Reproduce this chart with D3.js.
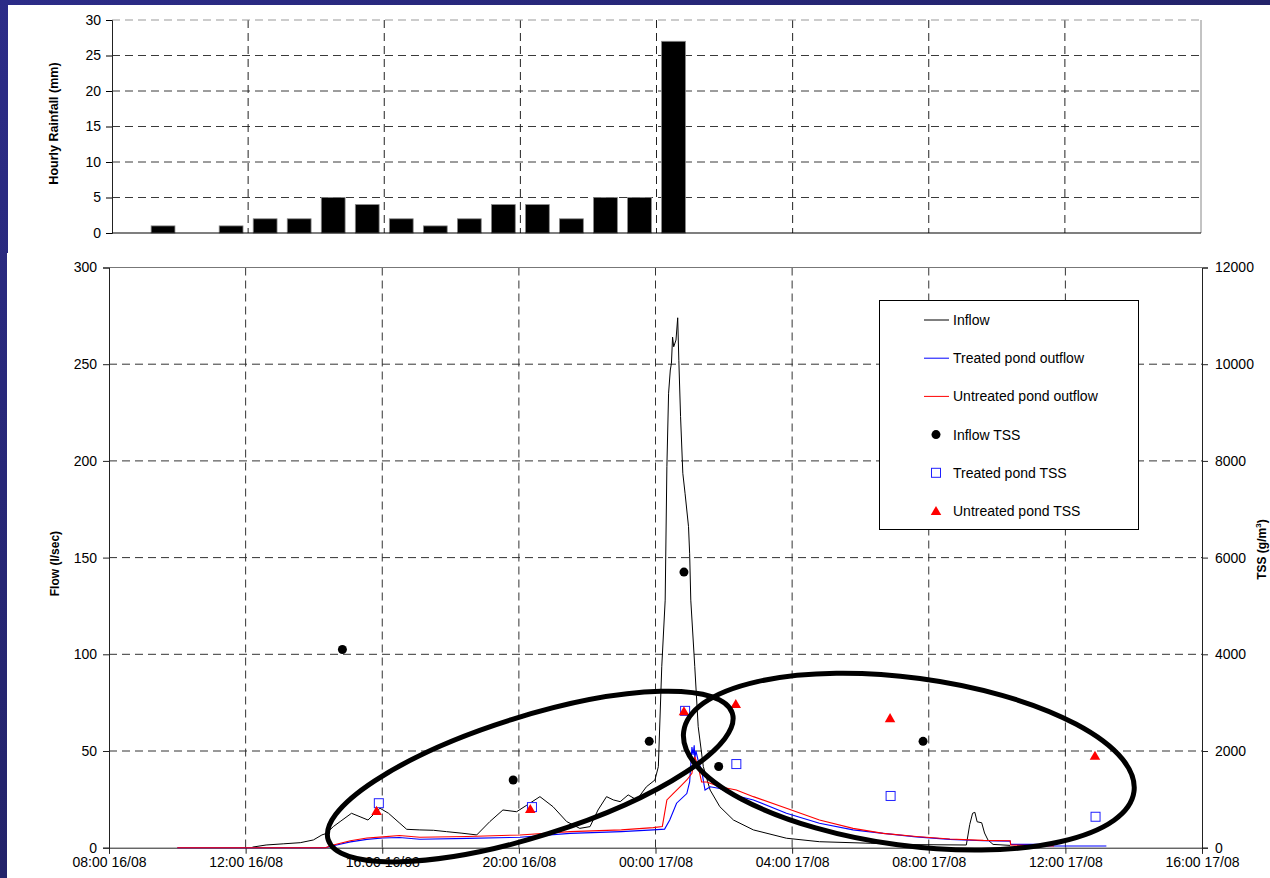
<!DOCTYPE html>
<html>
<head>
<meta charset="utf-8">
<script src="https://cdn.jsdelivr.net/npm/d3@7"></script>
<style>
  html, body { margin: 0; padding: 0; overflow: hidden; background: #fff; }
  svg { display: block; font-family: Arial, "Liberation Sans", sans-serif; }
</style>
</head>
<body>
<svg id="chart" width="1270" height="878"></svg>
<script>
// ---- Hourly rainfall (hour start, mm) ----
const rainHours = ["16 09:00","16 10:00","16 11:00","16 12:00","16 13:00","16 14:00","16 15:00","16 16:00",
                   "16 17:00","16 18:00","16 19:00","16 20:00","16 21:00","16 22:00","16 23:00","17 00:00"];
const rainMm    = [1, 0, 1, 2, 2, 5, 4, 2, 1, 2, 4, 4, 2, 5, 5, 27];

// ---- Flow series (time, l/sec) ----
const inflowTimes = ["16 12:12","16 12:36","16 13:06","16 13:36","16 13:59","16 14:14","16 14:22","16 14:34","16 14:46",
  "16 15:06","16 15:21","16 15:35","16 15:44","16 15:56","16 16:11","16 16:31","16 16:43","16 17:06","16 17:30","16 17:53",
  "16 18:20","16 18:46","16 19:09","16 19:32","16 19:56","16 20:14","16 20:37","16 21:00","16 21:24","16 21:47","16 22:05",
  "16 22:19","16 22:34","16 22:46","16 22:58","16 23:12","16 23:27","16 23:44","16 23:59","17 00:05","17 00:11","17 00:17",
  "17 00:20","17 00:23","17 00:26","17 00:28","17 00:30","17 00:32","17 00:36","17 00:39","17 00:41","17 00:44","17 00:48",
  "17 00:52","17 00:58","17 01:00","17 01:02","17 01:09","17 01:15","17 01:24","17 01:36","17 01:53","17 02:17","17 02:52",
  "17 03:50","17 04:48","17 06:17","17 07:30","17 09:06","17 09:12","17 09:17","17 09:21","17 09:25","17 09:33","17 09:38",
  "17 09:44","17 09:53","17 10:23"];
const inflowFlow = [0.3, 1.4, 2.0, 2.6, 4.0, 6.6, 7.4, 10.9, 13.5,
  17.8, 16.0, 14.3, 17.0, 20.4, 17.8, 12.6, 9.5, 9.2, 9.0, 8.3,
  7.5, 6.6, 13.5, 19.5, 18.6, 22, 26.4, 21.2, 13.5, 10, 10.9,
  19.5, 26.4, 24.7, 23.8, 27.3, 24.7, 31.5, 35, 41.9, 93.6, 128,
  197, 235, 247, 250.5, 264, 259, 262.5, 274, 252, 223, 193.6,
  183, 166, 152, 128, 93.6, 62.6, 41.9, 29.8, 21.2, 14.3, 9.2,
  4.9, 3.1, 2.3, 1.6, 1.4, 12, 17.8, 18.3, 13.4, 12.9, 7.6,
  4.0, 1.7, 1.2];

const treatedTimes = ["16 10:00","16 14:20","16 14:34","16 15:04","16 15:33","16 16:01","16 16:30","16 17:06","16 18:30",
  "16 20:02","16 21:30","16 23:00","16 23:56","17 00:16","17 00:25","17 00:37","17 00:55","17 01:00","17 01:04","17 01:06",
  "17 01:08","17 01:09","17 01:11","17 01:15","17 01:21","17 01:27","17 01:36","17 01:53","17 02:17","17 02:52","17 03:50",
  "17 04:48","17 05:47","17 06:40","17 07:38","17 08:37","17 09:36","17 10:23","17 10:24","17 11:18","17 11:20","17 13:12"];
const treatedFlow = [0, 0, 1.0, 3.0, 4.3, 5.0, 5.3, 4.4, 4.8,
  5.4, 7.4, 8.3, 9.2, 9.6, 14.3, 23, 28, 34, 52, 48,
  53, 46, 50, 45, 40, 29.8, 31.5, 30.6, 27.2, 24.7, 17.8,
  12.6, 9.2, 7.4, 5.6, 4.3, 3.6, 3.4, 1.7, 1.7, 0.9, 0.9];

const untreatedTimes = ["16 10:00","16 14:20","16 14:34","16 15:04","16 15:33","16 16:01","16 16:30","16 17:06","16 18:30",
  "16 20:02","16 21:30","16 23:00","16 23:56","17 00:12","17 00:20","17 00:31","17 00:43","17 00:55","17 01:04","17 01:09",
  "17 01:15","17 01:21","17 01:30","17 01:53","17 02:22","17 02:52","17 03:50","17 04:48","17 05:47","17 06:40","17 07:38",
  "17 08:37","17 09:36","17 10:23","17 10:24","17 11:40"];
const untreatedFlow = [0, 0, 1.4, 3.6, 5.0, 5.6, 6.3, 5.4, 5.8,
  6.6, 8.3, 9.2, 10.4, 11, 24.7, 28, 31.5, 35, 38.5, 47,
  41.9, 34, 34, 31.5, 29.8, 26.4, 20.4, 14.3, 10, 7.4, 5.8,
  4.5, 3.8, 3.6, 1.4, 0.9];

// ---- TSS samples (time, g/m3) ----
const inflowTssTimes = ["16 14:50","16 19:50","16 23:49","17 00:50","17 01:51","17 07:50"];
const inflowTss      = [4100, 1400, 2200, 5700, 1680, 2200];
const treatedTssTimes = ["16 15:54","16 20:23","17 00:52","17 02:22","17 06:53","17 12:53"];
const treatedTss      = [920, 840, 2830, 1730, 1070, 640];
const untreatedTssTimes = ["16 15:50","16 20:20","17 00:50","17 02:21","17 06:52","17 12:52"];
const untreatedTss      = [740, 780, 2800, 2950, 2660, 1880];

// ---- Axis ticks ----
const timeTicks = ["16 08:00","16 12:00","16 16:00","16 20:00","17 00:00","17 04:00","17 08:00","17 12:00","17 16:00"];
const rainTicks = [0, 5, 10, 15, 20, 25, 30];
const flowTicks = [0, 50, 100, 150, 200, 250, 300];
const tssTicks  = [0, 2000, 4000, 6000, 8000, 10000, 12000];

// ---- Highlight rings (centre time, centre flow, half-length in hours, half-width in l/sec, tilt) ----
const ringCentreTimes = ["16 20:20", "17 07:25"];
const ringCentreFlow  = [36.8, 44.5];
const ringHalfHours   = [6.2, 6.65];
const ringHalfFlow    = [31, 43.4];
const ringTilt        = [-17.4, 7.6];

const legendLabels = ["Inflow", "Treated pond outflow", "Untreated pond outflow",
                      "Inflow TSS", "Treated pond TSS", "Untreated pond TSS"];

// ---------------------------------------------------------------
const parseT = d3.utcParse("%Y-%m-%d %H:%M");
const T = s => parseT("2007-08-" + s);
const fmt = d3.utcFormat("%H:%M %d/%m");
const svg = d3.select("#chart");

// slide-style background frame
const defs = svg.append("defs");
const bg = defs.append("linearGradient").attr("id", "bg").attr("x1", 0).attr("y1", 0).attr("x2", 1).attr("y2", 1);
bg.append("stop").attr("offset", 0).attr("stop-color", "#2c2c88");
bg.append("stop").attr("offset", 1).attr("stop-color", "#1a1a4c");
svg.append("rect").attr("width", 1270).attr("height", 878).attr("fill", "url(#bg)");
svg.append("rect").attr("x", 8).attr("y", 5).attr("width", 1262).attr("height", 248).attr("fill", "#fff");
svg.append("rect").attr("x", 7).attr("y", 253).attr("width", 1263).attr("height", 625).attr("fill", "#fff");

const domainT = [T(timeTicks[0]), T(timeTicks[timeTicks.length - 1])];
const gridDash = "8,5";

// ================= Rainfall panel =================
const xr = d3.scaleUtc().domain(domainT).range([112, 1201]);
const yr = d3.scaleLinear().domain([0, 30]).range([233, 20]);
const rainPanel = svg.append("g");

rainPanel.append("g").selectAll("line").data(rainTicks.filter(v => v > 0 && v < 30)).join("line")
  .attr("x1", xr.range()[0]).attr("x2", xr.range()[1]).attr("y1", d => yr(d)).attr("y2", d => yr(d))
  .attr("stroke", "#3a3a3a").attr("stroke-dasharray", gridDash);
rainPanel.append("g").selectAll("line").data(timeTicks.slice(1, -1)).join("line")
  .attr("x1", d => xr(T(d))).attr("x2", d => xr(T(d))).attr("y1", yr(30)).attr("y2", yr(0))
  .attr("stroke", "#222").attr("stroke-dasharray", gridDash);
rainPanel.append("line").attr("x1", xr.range()[0]).attr("x2", xr.range()[1]).attr("y1", yr(30)).attr("y2", yr(30))
  .attr("stroke", "#999").attr("stroke-dasharray", gridDash);
rainPanel.append("line").attr("x1", xr.range()[1]).attr("x2", xr.range()[1]).attr("y1", yr(30)).attr("y2", yr(0))
  .attr("stroke", "#888");

const hourMs = 3600 * 1000;
rainPanel.append("g").selectAll("rect").data(rainHours.map((h, i) => ({ t: T(h), v: rainMm[i] })).filter(d => d.v > 0))
  .join("rect")
  .attr("x", d => xr(new Date(+d.t + 0.15 * hourMs)))
  .attr("width", d => xr(new Date(+d.t + 0.85 * hourMs)) - xr(new Date(+d.t + 0.15 * hourMs)))
  .attr("y", d => yr(d.v)).attr("height", d => yr(0) - yr(d.v))
  .attr("fill", "#000").attr("stroke", "#888").attr("stroke-width", 0.8);

const yAxisRain = rainPanel.append("g").attr("transform", `translate(${xr.range()[0]},0)`)
  .call(d3.axisLeft(yr).tickValues(rainTicks).tickSize(6).tickPadding(5));
yAxisRain.select(".domain").attr("stroke", "#222");
yAxisRain.selectAll("text").attr("font-size", 14).attr("font-family", "Arial, 'Liberation Sans', sans-serif").attr("fill", "#000");
rainPanel.append("line").attr("x1", xr.range()[0]).attr("x2", xr.range()[1]).attr("y1", yr(0)).attr("y2", yr(0))
  .attr("stroke", "#000").attr("stroke-width", 1.2);
rainPanel.append("text").attr("transform", `translate(58,${(yr(0) + yr(30)) / 2 - 3}) rotate(-90)`)
  .attr("text-anchor", "middle").attr("font-size", 12.5).attr("font-weight", "bold").text("Hourly Rainfall (mm)");

// ================= Flow / TSS panel =================
const x = d3.scaleUtc().domain(domainT).range([109, 1202]);
const y = d3.scaleLinear().domain([0, 300]).range([847.7, 267.5]);
const y2 = d3.scaleLinear().domain([0, 12000]).range([847.7, 267.5]);
const flowPanel = svg.append("g");

flowPanel.append("g").selectAll("line").data(flowTicks.filter(v => v > 0 && v < 300)).join("line")
  .attr("x1", x.range()[0]).attr("x2", x.range()[1]).attr("y1", d => y(d)).attr("y2", d => y(d))
  .attr("stroke", "#333").attr("stroke-dasharray", gridDash);
flowPanel.append("g").selectAll("line").data(timeTicks.slice(1, -1)).join("line")
  .attr("x1", d => x(T(d))).attr("x2", d => x(T(d))).attr("y1", y(300)).attr("y2", y(0))
  .attr("stroke", "#333").attr("stroke-dasharray", gridDash);
flowPanel.append("line").attr("x1", x.range()[0]).attr("x2", x.range()[1]).attr("y1", y(300)).attr("y2", y(300))
  .attr("stroke", "#777");

const styleAxis = g => {
  g.select(".domain").attr("stroke", "#222");
  g.selectAll(".tick line").attr("stroke", "#222");
  g.selectAll("text").attr("font-size", 14).attr("font-family", "Arial, 'Liberation Sans', sans-serif").attr("fill", "#000");
};
flowPanel.append("g").attr("transform", `translate(${x.range()[0]},0)`)
  .call(d3.axisLeft(y).tickValues(flowTicks).tickSize(6).tickPadding(6)).call(styleAxis);
flowPanel.append("g").attr("transform", `translate(${x.range()[1]},0)`)
  .call(d3.axisRight(y2).tickValues(tssTicks).tickFormat(d3.format("d")).tickSize(6).tickPadding(7)).call(styleAxis);
flowPanel.append("g").attr("transform", `translate(0,${y(0)})`)
  .call(d3.axisBottom(x).tickValues(timeTicks.map(T)).tickFormat(fmt).tickSize(6).tickPadding(3)).call(styleAxis);

flowPanel.append("text").attr("transform", `translate(59,${(y(0) + y(300)) / 2 + 6}) rotate(-90)`)
  .attr("text-anchor", "middle").attr("font-size", 12).attr("font-weight", "bold").text("Flow (l/sec)");
const tssLabel = flowPanel.append("text").attr("transform", `translate(1266,${(y(0) + y(300)) / 2 - 8}) rotate(-90)`)
  .attr("text-anchor", "middle").attr("font-size", 12).attr("font-weight", "bold");
tssLabel.append("tspan").text("TSS (g/m");
tssLabel.append("tspan").attr("font-size", 8).attr("dy", -5).text("3");
tssLabel.append("tspan").attr("dy", 5).text(")");

// flow lines
const line = d3.line().x(d => x(d.t)).y(d => y(d.v));
const series = (times, vals) => times.map((t, i) => ({ t: T(t), v: vals[i] }));
const plot = flowPanel.append("g");
plot.append("path").datum(series(inflowTimes, inflowFlow)).attr("d", line)
  .attr("fill", "none").attr("stroke", "#000").attr("stroke-width", 1);
plot.append("path").datum(series(treatedTimes, treatedFlow)).attr("d", line)
  .attr("fill", "none").attr("stroke", "#0000ff").attr("stroke-width", 1.1);
plot.append("path").datum(series(untreatedTimes, untreatedFlow)).attr("d", line)
  .attr("fill", "none").attr("stroke", "#ff0000").attr("stroke-width", 1.1);

// TSS markers
const tri = d3.symbol().type(d3.symbolTriangle).size(48);
const drawCircles = (g, px, py) => g.append("circle").attr("cx", px).attr("cy", py).attr("r", 4.5).attr("fill", "#000");
const drawSquares = (g, px, py) => g.append("rect").attr("x", px - 4.5).attr("y", py - 4.5).attr("width", 9).attr("height", 9)
  .attr("fill", "#fff").attr("stroke", "#2020ff").attr("stroke-width", 1);
const drawTri = (g, px, py) => g.append("path").attr("d", tri).attr("transform", `translate(${px},${py})`).attr("fill", "#ff0000");

series(inflowTssTimes, inflowTss).forEach(d => drawCircles(plot, x(d.t), y2(d.v)));
series(treatedTssTimes, treatedTss).forEach(d => drawSquares(plot, x(d.t), y2(d.v)));
series(untreatedTssTimes, untreatedTss).forEach(d => drawTri(plot, x(d.t), y2(d.v)));

// legend
const lg = flowPanel.append("g");
lg.append("rect").attr("x", 879.5).attr("y", 300.5).attr("width", 259).attr("height", 229)
  .attr("fill", "#fff").attr("stroke", "#000").attr("stroke-width", 1);
const rowY = i => 320 + i * 38.2;
const lineColours = ["#000", "#0000ff", "#ff0000"];
legendLabels.forEach((lab, i) => {
  const cy = rowY(i);
  if (i < 3) {
    lg.append("line").attr("x1", 924).attr("x2", 949).attr("y1", cy).attr("y2", cy)
      .attr("stroke", lineColours[i]).attr("stroke-width", 1);
  } else if (i === 3) drawCircles(lg, 936, cy);
  else if (i === 4) drawSquares(lg, 936, cy);
  else drawTri(lg, 936, cy + 1);
  lg.append("text").attr("x", 953).attr("y", cy + 5).attr("font-size", 14).text(lab);
});

// highlight rings
const msPerHour = 3600 * 1000;
const pxPerHour = x(new Date(+domainT[0] + msPerHour)) - x(domainT[0]);
const pxPerFlow = y(0) - y(1);
ringCentreTimes.forEach((t, i) => {
  flowPanel.append("ellipse")
    .attr("transform", `translate(${x(T(t))},${y(ringCentreFlow[i])}) rotate(${ringTilt[i]})`)
    .attr("rx", ringHalfHours[i] * pxPerHour).attr("ry", ringHalfFlow[i] * pxPerFlow)
    .attr("fill", "none").attr("stroke", "#000").attr("stroke-width", 5);
});
</script>
</body>
</html>
